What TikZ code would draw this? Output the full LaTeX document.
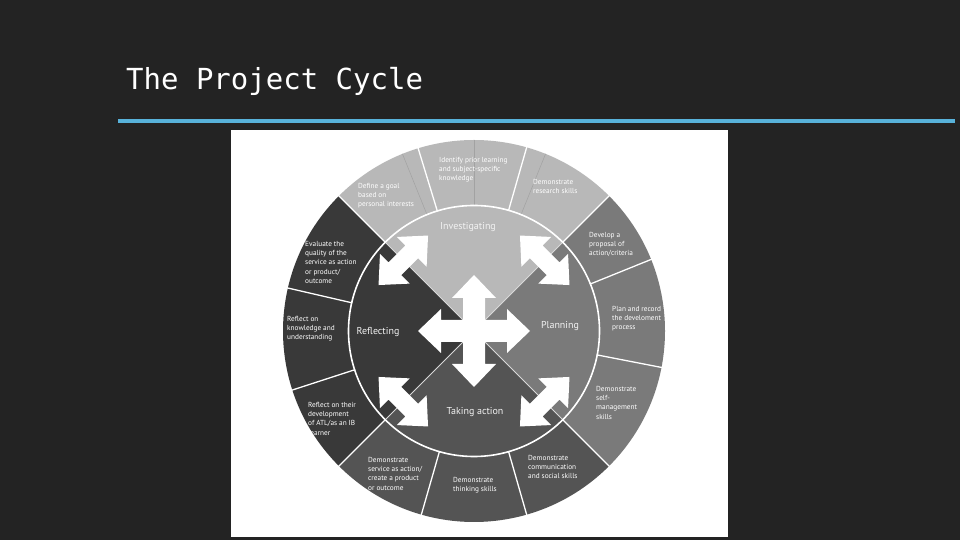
\documentclass[tikz,border=0pt]{standalone}
\usepackage{fontspec}
\setmainfont{PT Sans}
\newfontfamily\titlefont{DejaVu Sans Mono}
\definecolor{board}{RGB}{35,35,35}
\definecolor{chalkblue}{RGB}{88,178,218}
\definecolor{qtop}{RGB}{184,184,184}
\definecolor{qright}{RGB}{122,122,122}
\definecolor{qbot}{RGB}{84,84,84}
\definecolor{qleft}{RGB}{57,57,57}
\begin{document}
\begin{tikzpicture}[x=1pt, y=1pt,
  ringtext/.style={anchor=north west, inner sep=0pt, align=left, text=white, font=\fontsize{7.3}{9.3}\selectfont},
  stagetext/.style={inner sep=0pt, text=white!95!black, font=\fontsize{10}{12}\selectfont},
  sep/.style={white, line width=1.3pt}]
  % Fundo
  \fill[board] (0,0) rectangle (960,540);
  \useasboundingbox (0,0) rectangle (960,540);
  \node[anchor=base west, inner sep=0pt, text=white, font=\titlefont\fontsize{29}{34}\selectfont] (title) at (126,450) {The Project Cycle};
  \coordinate (L1) at (118,419);
  \coordinate (L2) at (955,419);
  \draw[chalkblue, line width=3.2pt] (L1) -- (L2);
  \fill[white] (231,3) rectangle (728,410);

  % Quadrantes
  \coordinate (O) at (474,209);
  \foreach \a/\c in {45/qtop, -45/qright, -135/qbot, 135/qleft}
    \fill[\c] (O) -- ++(\a:191) arc[start angle=\a, delta angle=90, radius=191] -- cycle;
  \foreach \a in {68,90,112}
    \draw[qtop!88!black, line width=0.5pt] (O) ++(\a:126) -- ++(\a:65);
  \foreach \a in {45,74,107,135,167,198,225,-106,-74,-45,-11,22}
    \draw[sep] (O) ++(\a:125) -- ++(\a:67);
  \foreach \a in {45,135,225,315}
    \draw[white!85!black, line width=0.8pt] (O) -- ++(\a:125);
  \draw[white, line width=1.6pt] (O) circle[radius=125.5];

  % Setas
  \foreach \a in {0,90,180,270}
    \fill[white, shift={(O)}, rotate=\a] (-11,-11) -- (33,-11) -- (33,-22) -- (56,0) -- (33,22) -- (33,11) -- (-11,11) -- cycle;
  \foreach \a in {45,135,225,315}
    \fill[white, shift={(O)}, rotate=\a] (100,-35) -- (121,-12) -- (109,-12) -- (109,12) -- (121,12) -- (100,35) -- (79,12) -- (91,12) -- (91,-12) -- (79,-12) -- cycle;

  % Etapas
  \node[stagetext] (inv) at (468,313) {Investigating};
  \node[stagetext] (pla) at (560,214) {Planning};
  \node[stagetext] (ref) at (378,208) {Reflecting};
  \node[stagetext] (tak) at (475,128) {Taking action};

  % Anel externo
  \node[ringtext] (goal) at (358,357) {Define a goal\\based on\\personal interests};
  \node[ringtext] (prior) at (439,383) {Identify prior learning\\and subject-specific\\knowledge};
  \node[ringtext] (research) at (533,361) {Demonstrate\\research skills};
  \node[ringtext] (proposal) at (589,308) {Develop a\\proposal of\\action/criteria};
  \node[ringtext] (record) at (612,234) {Plan and record\\the develoment\\process};
  \node[ringtext] (selfman) at (596,154) {Demonstrate\\self-\\management\\skills};
  \node[ringtext] (commun) at (528,85) {Demonstrate\\communication\\and social skills};
  \node[ringtext] (thinking) at (453,63) {Demonstrate\\thinking skills};
  \node[ringtext] (service) at (368,83) {Demonstrate\\service as action/\\create a product\\or outcome};
  \node[ringtext] (atl) at (308,138) {Reflect on their\\development\\of ATL/as an IB\\learner};
  \node[ringtext] (knowl) at (287,224) {Reflect on\\knowledge and\\understanding};
  \node[ringtext] (evaluate) at (305,299) {Evaluate the\\quality of the\\service as action\\or product/\\outcome};
\end{tikzpicture}
\end{document}
